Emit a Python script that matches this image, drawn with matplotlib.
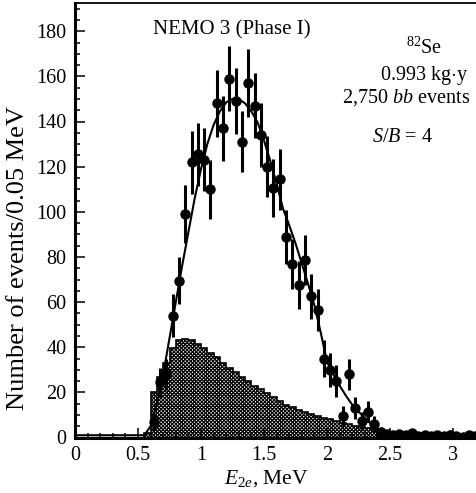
import numpy as np
import matplotlib
matplotlib.use("Agg")
import matplotlib.pyplot as plt
from matplotlib.ticker import MultipleLocator

plt.rcParams['font.family'] = ['Liberation Serif', 'DejaVu Serif']
plt.rcParams['mathtext.fontset'] = 'custom'
plt.rcParams['mathtext.rm'] = 'Liberation Serif'
plt.rcParams['mathtext.it'] = 'Liberation Serif:italic'
plt.rcParams['hatch.linewidth'] = 0.9

# measured 2e spectrum, 0.05 MeV bins starting at 0.6 MeV
bin_width = 0.05
first_center = 0.625
counts = [7, 24.5, 28, 54, 69.5, 99, 122, 125.5, 123, 110, 148, 137, 159, 149, 131,
          157, 147, 134, 120, 110.5, 114.5, 89, 77, 67.5, 78.5, 62.5, 56.5, 35, 30, 25,
          9.5, 28, 13, 7.5, 11.5, 6, 2.5,
          1.5, 1, 1.5, 1, 2, 0.5, 1, 0.5, 1, 0.5, 1, 0.5, 0.3, 1, 0.5]
errors = [3.5, 6.5, 7, 9.5, 10.5, 13, 14, 14, 14, 13, 15, 14.5, 14.5, 14.5, 13.5,
          15, 14.5, 14, 13.5, 13, 13.5, 12, 11, 10.5, 11, 10, 9.5, 8, 7.5, 7,
          4.5, 7, 5, 4, 4.5, 3.5, 2,
          1.2, 0.8, 1.2, 0.8, 1.2, 0.6, 0.8, 0.6, 0.8, 0.6, 2.5, 0.6, 0.5, 0.8, 0.6]
energy = first_center + bin_width * np.arange(len(counts))

# background histogram (hatched), bins from 0.55 MeV
bkg_start = 0.55
background = [2, 20, 27, 33, 39.5, 43, 43.5, 43, 41.5, 39.5, 37.5, 35.5, 33, 31, 29,
              27, 25, 23, 21.3, 19.5, 17.8, 16, 14.3, 13.3, 12.3, 11.3, 10.4, 9.6,
              8.8, 8, 7.2, 6.5, 5.8, 5.2, 4.6, 4.1, 3.6, 3.2]
bkg_edges = bkg_start + bin_width * np.arange(len(background) + 1)

# total fit curve
fit_x = [0.0, 0.55, 0.6, 0.65, 0.7, 0.75, 0.8, 0.85, 0.9, 0.95, 1.0, 1.05, 1.1, 1.15,
         1.2, 1.25, 1.3, 1.35, 1.4, 1.45, 1.5, 1.55, 1.6, 1.65, 1.7, 1.75, 1.8, 1.85,
         1.9, 1.95, 2.0, 2.05, 2.1, 2.15, 2.2, 2.25, 2.3, 2.35, 2.4, 2.45, 2.5, 2.6, 3.2]
fit_y = [1, 1, 5, 15, 28, 44, 60, 76, 91, 106, 119, 130, 138.5, 144.5, 148.5, 150, 150,
         148, 144.5, 139.5, 131.5, 122.5, 112.5, 101.5, 94, 86, 77, 68, 58.5, 46.5,
         33.5, 28, 23, 18.5, 14.5, 11.5, 8.5, 6, 4, 1.8, 0.8, 0.7, 0.5]

fig = plt.figure(figsize=(4.77, 4.93), dpi=100)
ax = fig.add_axes([75 / 477, 1 - 437.5 / 493, 402 / 477, 434.5 / 493])

ax.stairs(background, bkg_edges, fill=True, facecolor='white', edgecolor='black',
          hatch='xxxxxxxxx', lw=1.2, zorder=1)
ax.plot(fit_x, fit_y, color='black', lw=1.5, zorder=2)
ax.errorbar(energy, counts, yerr=errors, fmt='o', color='black', ms=6.5,
            elinewidth=2.2, capsize=0, zorder=3)

ax.set_xlim(0, 3.19)
ax.set_ylim(0, 192.5)
ax.xaxis.set_minor_locator(MultipleLocator(0.1))
ax.yaxis.set_minor_locator(MultipleLocator(5))
ax.set_xticks([0, 0.5, 1, 1.5, 2, 2.5, 3])
ax.set_xticklabels(['0', '0.5', '1', '1.5', '2', '2.5', '3'])
ax.set_yticks(range(0, 181, 20))
ax.tick_params(which='both', direction='in', top=False, right=False,
               labelsize=14.5, width=1.1)
ax.tick_params(which='major', length=7, pad=6)
ax.tick_params(which='minor', length=3.8)
ax.spines['right'].set_visible(False)
ax.spines['left'].set_linewidth(2.2)
ax.spines['bottom'].set_linewidth(2.2)
ax.spines['top'].set_linewidth(1.3)

fig.text(18.5 / 477, 1 - 258 / 493, 'Number of events/0.05 MeV', rotation=90,
         ha='center', va='center', fontsize=19)
fig.text(266 / 477, 1 - 479 / 493, '$E_{2e}$, MeV', ha='center', va='center',
         fontsize=15.5)

ax.text(1.246, 180.5, 'NEMO 3 (Phase I)', ha='center', va='center', fontsize=15)
ax.text(2.77, 172.5, '$^{82}$Se', ha='center', va='center', fontsize=14.5)
ax.text(2.77, 160.5, '0.993 kg$\\cdot$y', ha='center', va='center', fontsize=14.5)
ax.text(2.63, 150.5, '2,750 $bb$ events', ha='center', va='center', fontsize=14.5)
ax.text(2.60, 132.7, '$S/B$ = 4', ha='center', va='center', fontsize=14.5)

fig.savefig('out.png', dpi=100)
